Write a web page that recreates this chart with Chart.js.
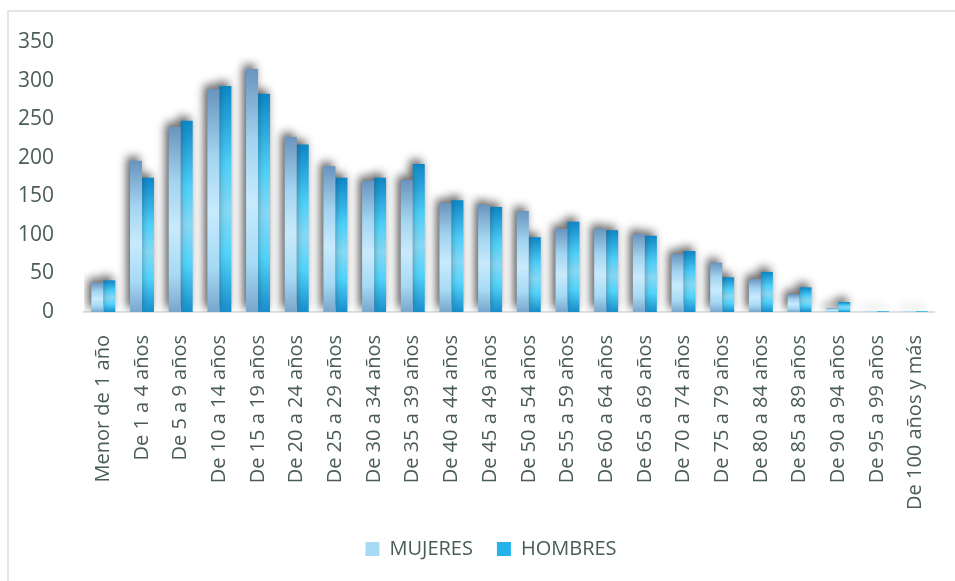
<!DOCTYPE html>
<html>
<head>
<meta charset="utf-8">
<script src="https://cdn.jsdelivr.net/npm/chart.js@4.4.1/dist/chart.umd.min.js"></script>
<style>
  html, body { margin: 0; padding: 0; background: #ffffff; overflow: hidden; }
  #wrap { position: relative; width: 955px; height: 581px; }
  #frame { position: absolute; left: 7px; top: 10px; width: 980px; height: 600px;
           border-left: 2px solid #e1e8e6; border-top: 2px solid #e1e8e6; box-sizing: border-box; }
  #c { position: absolute; left: 0; top: 0; }
</style>
</head>
<body>
<div id="wrap">
  <div id="frame"></div>
  <canvas id="c" width="955" height="581"></canvas>
</div>
<script>
const categories = [
  "Menor de 1 año", "De 1 a 4 años", "De 5 a 9 años", "De 10 a 14 años", "De 15 a 19 años",
  "De 20 a 24 años", "De 25 a 29 años", "De 30 a 34 años", "De 35 a 39 años", "De 40 a 44 años",
  "De 45 a 49 años", "De 50 a 54 años", "De 55 a 59 años", "De 60 a 64 años", "De 65 a 69 años",
  "De 70 a 74 años", "De 75 a 79 años", "De 80 a 84 años", "De 85 a 89 años", "De 90 a 94 años",
  "De 95 a 99 años", "De 100 años y más"
];
const mujeres = [38, 196, 240, 289, 315, 227, 189, 170, 171, 141, 139, 131, 108, 108, 101, 75, 64, 43, 23, 5, 1, 1];
const hombres = [41, 174, 248, 293, 283, 217, 174, 174, 192, 145, 136, 97, 117, 106, 99, 79, 45, 52, 32, 13, 1, 1];
const yTicks = [0, 50, 100, 150, 200, 250, 300, 350];

const TEXT = '#4a5d54';
const FONT = '"Open Sans", Lato, sans-serif';

const mujStops = [[0, '#6994be'], [0.3, '#a3d4f1'], [0.55, '#c8eafd'], [0.8, '#a6daf5'], [1, '#79a6cc']];
const homStops = [[0, '#0e86c6'], [0.35, '#4fcff8'], [0.55, '#86d8f5'], [0.75, '#52d3fb'], [1, '#198ecb']];
const legendFill = ['#a9daf4', '#25b2e9'];

function barGradient(stops, fallback) {
  return (ctx) => {
    const chart = ctx.chart;
    const y = chart.scales && chart.scales.y;
    if (ctx.type !== 'data' || !y || !chart.chartArea || !ctx.parsed) return fallback;
    const top = y.getPixelForValue(ctx.parsed.y);
    const bot = y.getPixelForValue(0);
    if (!isFinite(top) || !isFinite(bot) || bot - top < 1) return fallback;
    const g = chart.ctx.createLinearGradient(0, top, 0, bot);
    stops.forEach(([o, c]) => g.addColorStop(o, c));
    return g;
  };
}

const shadowPlugin = {
  id: 'barShadow',
  afterLayout(chart) {
    // the legend in the reference is centred a little right of the canvas centre
    if (chart.legend) { chart.legend.left = 45; }
  },
  beforeDatasetsDraw(chart) {
    const c = chart.ctx;
    c.save();
    c.shadowColor = 'rgba(0,0,0,0.68)';
    c.shadowBlur = 10;
    c.shadowOffsetX = -3;
    c.shadowOffsetY = -4;
  },
  afterDatasetsDraw(chart) {
    chart.ctx.restore();
  }
};

new Chart(document.getElementById('c'), {
  type: 'bar',
  data: {
    labels: categories,
    datasets: [
      { label: 'MUJERES', data: mujeres, backgroundColor: barGradient(mujStops, legendFill[0]), borderWidth: 0 },
      { label: 'HOMBRES', data: hombres, backgroundColor: barGradient(homStops, legendFill[1]), borderWidth: 0 }
    ]
  },
  options: {
    responsive: false,
    animation: false,
    devicePixelRatio: 1,
    layout: { padding: { left: 14, right: 18, top: 42, bottom: 12 } },
    datasets: { bar: { barPercentage: 1, categoryPercentage: 0.62 } },
    scales: {
      x: {
        grid: { display: false },
        border: { display: true, color: '#dbe4e1', width: 2 },
        ticks: {
          color: TEXT, font: { family: FONT, size: 20 },
          minRotation: 90, maxRotation: 90, autoSkip: false, padding: 15
        },
        afterFit(s) { s.height = 203; }
      },
      y: {
        min: 0, max: 350,
        afterBuildTicks(s) { s.ticks = yTicks.map(v => ({ value: v })); },
        grid: { display: false },
        border: { display: false },
        ticks: { color: TEXT, font: { family: FONT, size: 21 }, padding: 22 },
        afterFit(s) { s.width = 70; }
      }
    },
    plugins: {
      legend: {
        position: 'bottom',
        labels: {
          color: TEXT, font: { family: FONT, size: 20 },
          boxWidth: 14, boxHeight: 14, padding: 24,
          generateLabels(chart) {
            const items = Chart.defaults.plugins.legend.labels.generateLabels(chart);
            items.forEach((it, i) => { it.fillStyle = legendFill[i]; it.strokeStyle = legendFill[i]; it.lineWidth = 0; });
            return items;
          }
        }
      },
      tooltip: { enabled: false }
    }
  },
  plugins: [shadowPlugin]
});
</script>
</body>
</html>
